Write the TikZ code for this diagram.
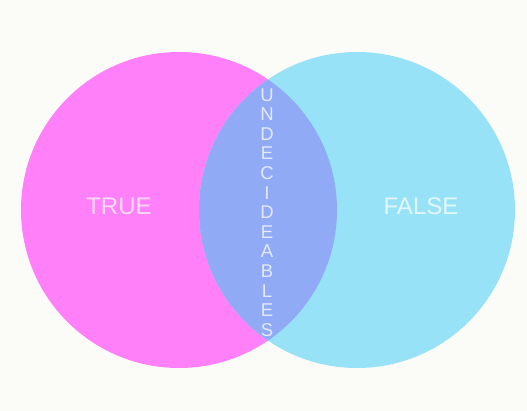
\documentclass[tikz,border=0pt]{standalone}
\usepackage{fontspec}
\setmainfont{Liberation Sans}
\definecolor{bgc}{RGB}{251,251,248}
\definecolor{magc}{RGB}{255,128,248}
\definecolor{cyac}{RGB}{152,226,247}
\definecolor{lensc}{RGB}{144,170,246}
\begin{document}
\begin{tikzpicture}[x=1pt,y=-1pt,
  lbl/.style={text=white,text opacity=0.72,font=\fontsize{24}{24}\selectfont,inner sep=0pt},
  vlbl/.style={text=white,text opacity=0.75,font=\fontsize{18.5}{19.6}\selectfont,align=center,inner sep=0pt}]
\fill[bgc] (0,0) rectangle (527,411);
\useasboundingbox (0,0) rectangle (527,411);
\fill[magc] (179,210) circle (158);
\fill[cyac] (357,210) circle (158);
\begin{scope}
  \clip (179,210) circle (158);
  \fill[lensc] (357,210) circle (158);
\end{scope}
\node[lbl] (t) at (119,206) {TRUE};
\node[lbl] (f) at (421,206) {FALSE};
\node[vlbl] (u) at (267,212.5) {U\\N\\D\\E\\C\\I\\D\\E\\A\\B\\L\\E\\S};
\end{tikzpicture}
\end{document}
